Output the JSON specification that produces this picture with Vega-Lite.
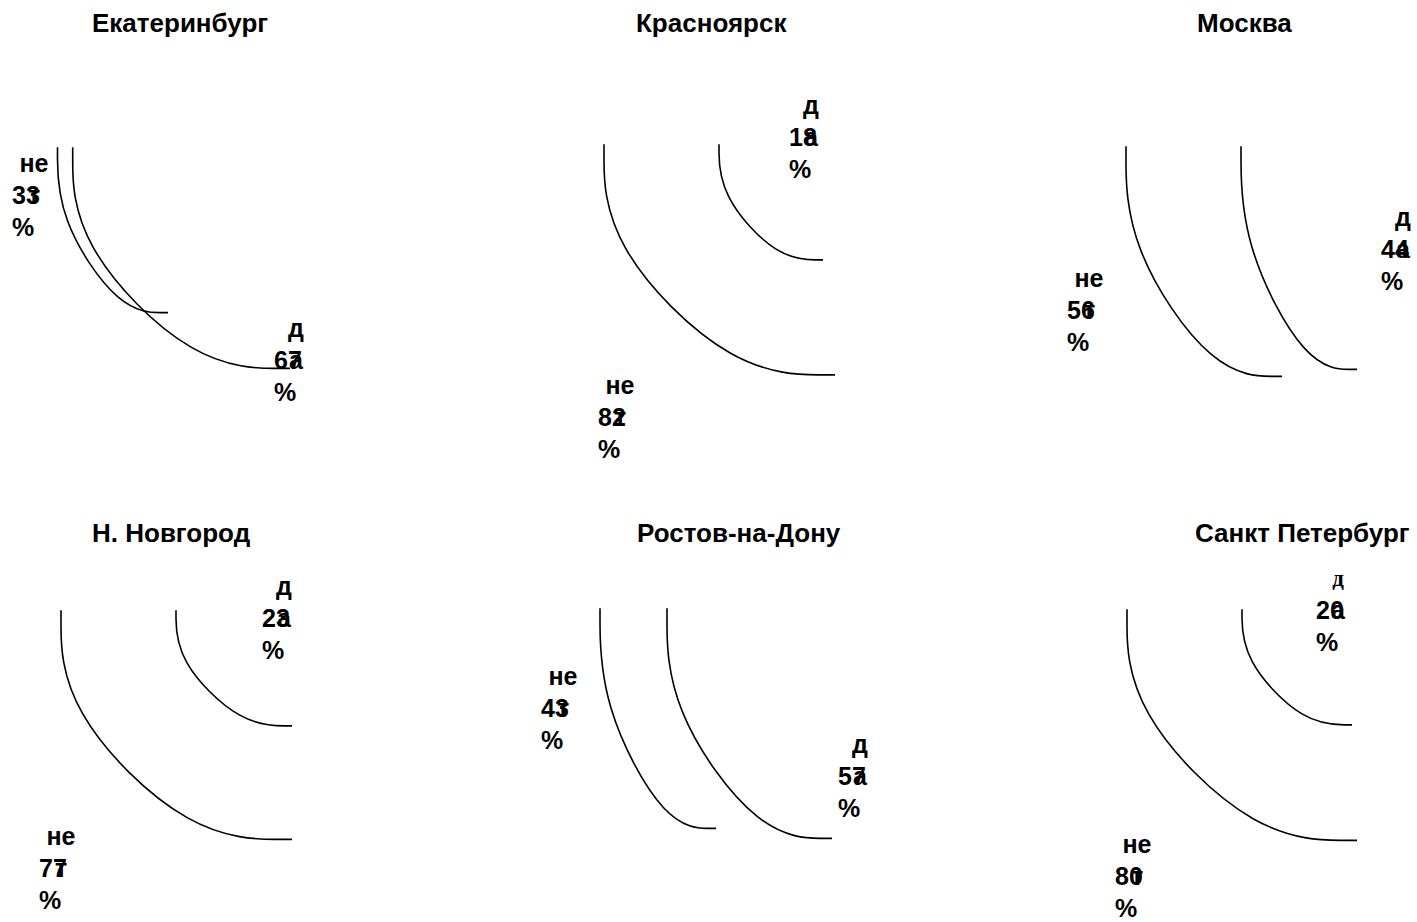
{
  "$schema": "https://vega.github.io/schema/vega-lite/v6.json",
  "width": 1417,
  "height": 922,
  "padding": 0,
  "autosize": {"type": "fit", "contains": "padding"},
  "background": "white",
  "config": {"view": {"stroke": null}},
  "datasets": {
    "arcs": [
      {"city": "Екатеринбург", "answer": "нет", "step": 0, "x": 57.5, "y": 148},
      {"city": "Екатеринбург", "answer": "нет", "step": 1, "x": 57.5, "y": 219},
      {"city": "Екатеринбург", "answer": "нет", "step": 2, "x": 120.5, "y": 314},
      {"city": "Екатеринбург", "answer": "нет", "step": 3, "x": 168, "y": 314},
      {"city": "Екатеринбург", "answer": "да", "step": 0, "x": 72.7, "y": 148},
      {"city": "Екатеринбург", "answer": "да", "step": 1, "x": 72.7, "y": 243.5},
      {"city": "Екатеринбург", "answer": "да", "step": 2, "x": 196.5, "y": 370},
      {"city": "Екатеринбург", "answer": "да", "step": 3, "x": 290, "y": 370},
      {"city": "Красноярск", "answer": "нет", "step": 0, "x": 604, "y": 145},
      {"city": "Красноярск", "answer": "нет", "step": 1, "x": 604, "y": 244.5},
      {"city": "Красноярск", "answer": "нет", "step": 2, "x": 735.5, "y": 376.5},
      {"city": "Красноярск", "answer": "нет", "step": 3, "x": 835, "y": 376.5},
      {"city": "Красноярск", "answer": "да", "step": 0, "x": 719, "y": 145},
      {"city": "Красноярск", "answer": "да", "step": 1, "x": 719, "y": 195},
      {"city": "Красноярск", "answer": "да", "step": 2, "x": 778, "y": 261},
      {"city": "Красноярск", "answer": "да", "step": 3, "x": 823, "y": 261},
      {"city": "Москва", "answer": "нет", "step": 0, "x": 1126, "y": 147},
      {"city": "Москва", "answer": "нет", "step": 1, "x": 1126, "y": 246},
      {"city": "Москва", "answer": "нет", "step": 2, "x": 1215, "y": 378},
      {"city": "Москва", "answer": "нет", "step": 3, "x": 1282, "y": 378},
      {"city": "Москва", "answer": "да", "step": 0, "x": 1241, "y": 147},
      {"city": "Москва", "answer": "да", "step": 1, "x": 1241, "y": 243},
      {"city": "Москва", "answer": "да", "step": 2, "x": 1307, "y": 371},
      {"city": "Москва", "answer": "да", "step": 3, "x": 1357, "y": 371},
      {"city": "Н. Новгород", "answer": "нет", "step": 0, "x": 61, "y": 613},
      {"city": "Н. Новгород", "answer": "нет", "step": 1, "x": 61, "y": 712},
      {"city": "Н. Новгород", "answer": "нет", "step": 2, "x": 192.5, "y": 843},
      {"city": "Н. Новгород", "answer": "нет", "step": 3, "x": 292, "y": 843},
      {"city": "Н. Новгород", "answer": "да", "step": 0, "x": 176, "y": 613},
      {"city": "Н. Новгород", "answer": "да", "step": 1, "x": 176, "y": 663},
      {"city": "Н. Новгород", "answer": "да", "step": 2, "x": 242, "y": 729},
      {"city": "Н. Новгород", "answer": "да", "step": 3, "x": 292, "y": 729},
      {"city": "Ростов-на-Дону", "answer": "нет", "step": 0, "x": 600, "y": 611},
      {"city": "Ростов-на-Дону", "answer": "нет", "step": 1, "x": 600, "y": 706},
      {"city": "Ростов-на-Дону", "answer": "нет", "step": 2, "x": 666, "y": 832},
      {"city": "Ростов-на-Дону", "answer": "нет", "step": 3, "x": 716, "y": 832},
      {"city": "Ростов-на-Дону", "answer": "да", "step": 0, "x": 667, "y": 611},
      {"city": "Ростов-на-Дону", "answer": "да", "step": 1, "x": 667, "y": 710},
      {"city": "Ростов-на-Дону", "answer": "да", "step": 2, "x": 761, "y": 842},
      {"city": "Ростов-на-Дону", "answer": "да", "step": 3, "x": 832, "y": 842},
      {"city": "Санкт Петербург", "answer": "нет", "step": 0, "x": 1127, "y": 612},
      {"city": "Санкт Петербург", "answer": "нет", "step": 1, "x": 1127, "y": 712},
      {"city": "Санкт Петербург", "answer": "нет", "step": 2, "x": 1258, "y": 844},
      {"city": "Санкт Петербург", "answer": "нет", "step": 3, "x": 1357, "y": 844},
      {"city": "Санкт Петербург", "answer": "да", "step": 0, "x": 1242, "y": 612},
      {"city": "Санкт Петербург", "answer": "да", "step": 1, "x": 1242, "y": 662},
      {"city": "Санкт Петербург", "answer": "да", "step": 2, "x": 1304.5, "y": 728},
      {"city": "Санкт Петербург", "answer": "да", "step": 3, "x": 1352, "y": 728}
    ],
    "labels": [
      {"city": "Екатеринбург", "answer": "нет", "head": "не", "tail": "т", "value": 33, "x": 34, "y": 165},
      {"city": "Екатеринбург", "answer": "да", "head": "д", "tail": "а", "value": 67, "x": 296, "y": 330},
      {"city": "Красноярск", "answer": "да", "head": "д", "tail": "а", "value": 18, "x": 811, "y": 106},
      {"city": "Красноярск", "answer": "нет", "head": "не", "tail": "т", "value": 82, "x": 620, "y": 388},
      {"city": "Москва", "answer": "да", "head": "д", "tail": "а", "value": 44, "x": 1403, "y": 219},
      {"city": "Москва", "answer": "нет", "head": "не", "tail": "т", "value": 56, "x": 1089, "y": 280},
      {"city": "Н. Новгород", "answer": "да", "head": "д", "tail": "а", "value": 23, "x": 284, "y": 590},
      {"city": "Н. Новгород", "answer": "нет", "head": "не", "tail": "т", "value": 77, "x": 61, "y": 841},
      {"city": "Ростов-на-Дону", "answer": "нет", "head": "не", "tail": "т", "value": 43, "x": 563, "y": 680},
      {"city": "Ростов-на-Дону", "answer": "да", "head": "д", "tail": "а", "value": 57, "x": 860, "y": 748},
      {"city": "Санкт Петербург", "answer": "да", "head": "д", "tail": "а", "value": 20, "x": 1338, "y": 582},
      {"city": "Санкт Петербург", "answer": "нет", "head": "не", "tail": "т", "value": 80, "x": 1137, "y": 849}
    ],
    "titles": [
      {"city": "Екатеринбург", "x": 92, "y": 24},
      {"city": "Красноярск", "x": 636, "y": 24},
      {"city": "Москва", "x": 1197, "y": 24},
      {"city": "Н. Новгород", "x": 92, "y": 536},
      {"city": "Ростов-на-Дону", "x": 637, "y": 536},
      {"city": "Санкт Петербург", "x": 1195, "y": 536}
    ]
  },
  "layer": [
    {
      "data": {"name": "arcs"},
      "mark": {"type": "line", "interpolate": "basis", "color": "black", "strokeWidth": 1.6},
      "encoding": {
        "x": {"field": "x", "type": "quantitative", "axis": null, "scale": {"domain": [0, 1417], "nice": false, "zero": false}},
        "y": {"field": "y", "type": "quantitative", "axis": null, "scale": {"domain": [0, 922], "nice": false, "zero": false, "reverse": true}},
        "detail": [{"field": "city"}, {"field": "answer"}],
        "order": {"field": "step", "type": "quantitative"}
      }
    },
    {
      "data": {"name": "titles"},
      "mark": {"type": "text", "align": "left", "baseline": "middle", "font": "Liberation Sans", "fontWeight": "bold", "fontSize": 26, "color": "black"},
      "encoding": {
        "x": {"field": "x", "type": "quantitative"},
        "y": {"field": "y", "type": "quantitative"},
        "text": {"field": "city"}
      }
    },
    {
      "data": {"name": "labels"},
      "transform": [{"filter": "datum.city !== 'Санкт Петербург' || datum.answer !== 'да'"}],
      "mark": {"type": "text", "align": "center", "baseline": "middle", "font": "Liberation Sans", "fontWeight": "bold", "fontSize": 25, "color": "black"},
      "encoding": {
        "x": {"field": "x", "type": "quantitative"},
        "y": {"field": "y", "type": "quantitative"},
        "text": {"field": "head"}
      }
    },
    {
      "data": {"name": "labels"},
      "transform": [{"filter": "datum.city === 'Санкт Петербург' && datum.answer === 'да'"}],
      "mark": {"type": "text", "align": "center", "baseline": "middle", "font": "Liberation Serif", "fontWeight": "bold", "fontSize": 23, "color": "black"},
      "encoding": {
        "x": {"field": "x", "type": "quantitative"},
        "y": {"field": "y", "type": "quantitative"},
        "text": {"field": "head"}
      }
    },
    {
      "data": {"name": "labels"},
      "mark": {"type": "text", "align": "center", "baseline": "middle", "dy": 32, "font": "Liberation Sans", "fontWeight": "bold", "fontSize": 25, "color": "black"},
      "encoding": {
        "x": {"field": "x", "type": "quantitative"},
        "y": {"field": "y", "type": "quantitative"},
        "text": {"field": "tail"}
      }
    },
    {
      "data": {"name": "labels"},
      "mark": {"type": "text", "align": "left", "baseline": "middle", "dx": -22, "dy": 32, "font": "Liberation Sans", "fontWeight": "bold", "fontSize": 25, "color": "black"},
      "encoding": {
        "x": {"field": "x", "type": "quantitative"},
        "y": {"field": "y", "type": "quantitative"},
        "text": {"field": "value", "type": "quantitative"}
      }
    },
    {
      "data": {"name": "labels"},
      "mark": {"type": "text", "align": "left", "baseline": "middle", "dx": -22, "dy": 64, "font": "Liberation Sans", "fontWeight": "bold", "fontSize": 25, "color": "black", "text": "%"},
      "encoding": {
        "x": {"field": "x", "type": "quantitative"},
        "y": {"field": "y", "type": "quantitative"}
      }
    }
  ]
}
